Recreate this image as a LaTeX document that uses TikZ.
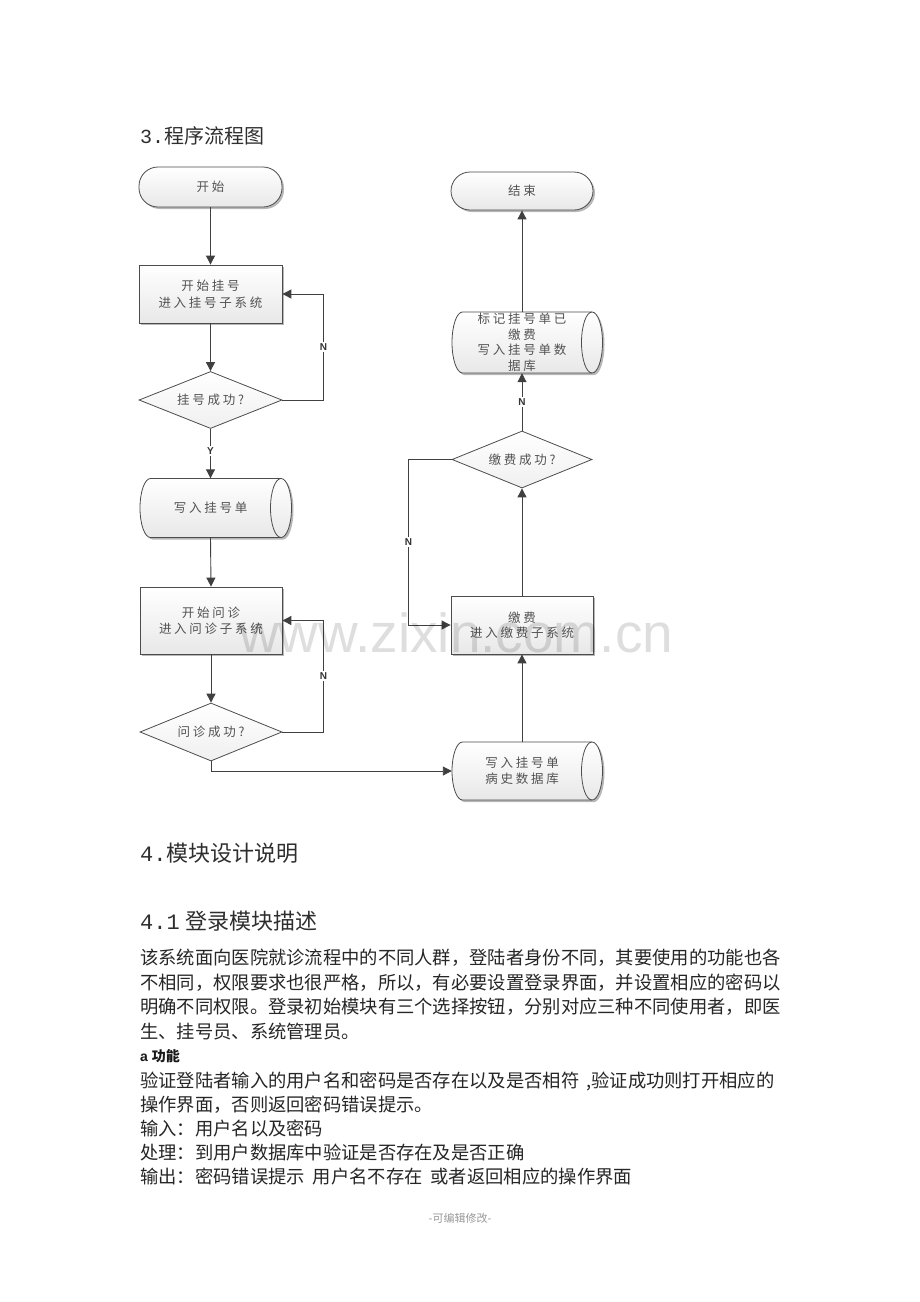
\documentclass[tikz,border=0pt]{standalone}
\usepackage{fontspec}
\setmainfont{Liberation Sans}
\newfontfamily\cjk{Noto Sans CJK SC}
\newfontfamily\cjkfc[LetterSpace=22]{Noto Sans CJK SC}
\newfontfamily\monof{Liberation Mono}
\usetikzlibrary{shapes.geometric,arrows.meta,shadows,backgrounds,calc}

\newcommand\mycyl[6]{%
  \fill[black!40,opacity=0.7]
    ({#2-#4/2+10.5+2},{#3-#5/2+2}) -- ({#2+#4/2+2},{#3-#5/2+2})
    arc[start angle=90,end angle=-90,x radius=10.5pt,y radius={#5*0.5pt}]
    -- ({#2-#4/2+10.5+2},{#3+#5/2+2})
    arc[start angle=270,end angle=90,x radius=10.5pt,y radius={#5*0.5pt}] -- cycle;
  \path[draw=black!70,line width=0.8pt,top color=white,bottom color=black!9]
    ({#2-#4/2+10.5},{#3-#5/2}) -- ({#2+#4/2},{#3-#5/2})
    arc[start angle=90,end angle=-90,x radius=10.5pt,y radius={#5*0.5pt}]
    -- ({#2-#4/2+10.5},{#3+#5/2})
    arc[start angle=270,end angle=90,x radius=10.5pt,y radius={#5*0.5pt}] -- cycle;
  \draw[black!70,line width=0.8pt] ({#2+#4/2},{#3-#5/2})
    arc[start angle=90,end angle=270,x radius=10.5pt,y radius={#5*0.5pt}];
  \node[fc,minimum width=#4,minimum height=#5] (#1) at (#2,#3) {#6};%
}

\begin{document}
\begin{tikzpicture}[x=1pt,y=-1pt,
  every node/.style={inner sep=0pt},
  ln/.style={draw=black!75,line width=0.9pt},
  arr/.style={ln,-{Triangle[width=9pt,length=9pt]}},
  fc/.style={font=\cjkfc\fontsize{12.5}{15.5}\selectfont,text=black!68,align=center},
  shd/.style={drop shadow={shadow xshift=2pt,shadow yshift=-2pt,fill=black!40,opacity=0.7}},
  proc/.style={fc,rectangle,draw=black!70,line width=0.8pt,top color=white,bottom color=black!9,shd},
  term/.style={fc,rectangle,rounded corners=19pt,draw=black!70,line width=0.8pt,top color=white,bottom color=black!9,shd},
  dec/.style={fc,diamond,aspect=2.5,draw=black!70,line width=0.8pt,top color=white,bottom color=black!6},
  lab/.style={font=\bfseries\fontsize{10}{10}\selectfont,fill=white,inner sep=1.5pt,text=black!80},
  body/.style={anchor=base west,font=\cjk\fontsize{18.3}{22}\selectfont,text=black!85},
  head/.style={anchor=base west,text=black!82}
]
\useasboundingbox[fill=white] (0,0) rectangle (920,1302);

% title
\node[head,font=\fontsize{20}{24}\selectfont] (title) at (140,143) {\monof 3.\cjk 程序流程图};

% left column
\node[term,minimum width=143,minimum height=40] (start) at (210.5,187) {开始};
\node[proc,minimum width=143,minimum height=58,font=\cjkfc\fontsize{12.5}{17.5}\selectfont] (reg) at (210.5,294) {开始挂号\\进入挂号子系统};
\node[dec,minimum width=143,minimum height=57] (dreg) at (210.5,400) {挂号成功?};
\mycyl{cyla}{210.5}{508}{141}{59}{写入挂号单}
\node[proc,minimum width=142,minimum height=67] (inq) at (211,620.5) {开始问诊\\进入问诊子系统};
\node[dec,minimum width=142,minimum height=58] (dinq) at (211,732) {问诊成功?};

% right column
\mycyl{cylb}{522}{771}{140}{58}{写入挂号单\\病史数据库}
\node[proc,minimum width=142,minimum height=58] (pay) at (522,625) {缴费\\进入缴费子系统};
\node[dec,minimum width=140,minimum height=57] (dpay) at (522,459.5) {缴费成功?};
\mycyl{cylc}{522}{342.5}{140}{61}{\fontsize{12.5}{13.7}\selectfont 标记挂号单已\\缴费\\写入挂号单数\\据库}
\node[term,minimum width=142,minimum height=38] (end) at (522,191) {结束};

% connectors
\draw[arr] (start.south) -- (reg.north);
\draw[arr] (reg.south) -- (dreg.north);
\draw[arr] (dreg.east) -- ++(41,0) |- (reg.east) node[lab,pos=0.25] {N};
\draw[arr] (dreg.south) -- (cyla.north) node[lab,pos=0.45] {Y};
\draw[arr] (cyla.south) -- (inq.north);
\draw[arr] (inq.south) -- (dinq.north);
\draw[arr] (dinq.east) -- ++(41,0) |- (inq.east) node[lab,pos=0.25] {N};
\draw[arr] (dinq.south) |- (cylb.west);
\draw[arr] (cylb.north) -- (pay.south);
\draw[arr] (pay.north) -- (dpay.south);
\draw[arr] (dpay.west) -- ++(-43,0) |- (pay.west) node[lab,pos=0.25] {N};
\draw[arr] (dpay.north) -- (cylc.south) node[lab,pos=0.5] {N};
\draw[arr] (cylc.north) -- (end.south);

% section text
\node[head,font=\fontsize{22}{26}\selectfont] (sec4) at (140,861) {\monof 4.\cjk 模块设计说明};
\node[head,font=\fontsize{22}{26}\selectfont] (sec41) at (140,929) {\monof 4.1\hspace{6pt}\cjk 登录模块描述};

\node[body] (l1) at (140,964) {该系统面向医院就诊流程中的不同人群，登陆者身份不同，其要使用的功能也各};
\node[body] (l2) at (140,989) {不相同，权限要求也很严格，所以，有必要设置登录界面，并设置相应的密码以};
\node[body] (l3) at (140,1013) {明确不同权限。登录初始模块有三个选择按钮，分别对应三种不同使用者，即医};
\node[body] (l4) at (140,1038) {生、挂号员、系统管理员。};
\node[anchor=base west,text=black!90,font=\bfseries\fontsize{14}{16}\selectfont] (l5) at (140,1061) {a \cjk\bfseries 功能};
\node[body] (l6) at (140,1087) {验证登陆者输入的用户名和密码是否存在以及是否相符\hspace{7pt},验证成功则打开相应的};
\node[body] (l7) at (140,1111) {操作界面，否则返回密码错误提示。};
\node[body] (l8) at (140,1135) {输入：用户名以及密码};
\node[body] (l9) at (140,1159) {处理：到用户数据库中验证是否存在及是否正确};
\node[body] (l10) at (140,1183) {输出：密码错误提示\hspace{8pt}用户名不存在\hspace{8pt}或者返回相应的操作界面};

\node[font=\cjk\fontsize{11}{13}\selectfont,text=black!40] (foot) at (460,1218) {-可编辑修改-};

% watermark
\node[anchor=base west,font=\fontsize{55}{60}\selectfont,text=black,opacity=0.13] (wm) at (239,652) {www.zixin.com.cn};
\end{tikzpicture}
\end{document}
